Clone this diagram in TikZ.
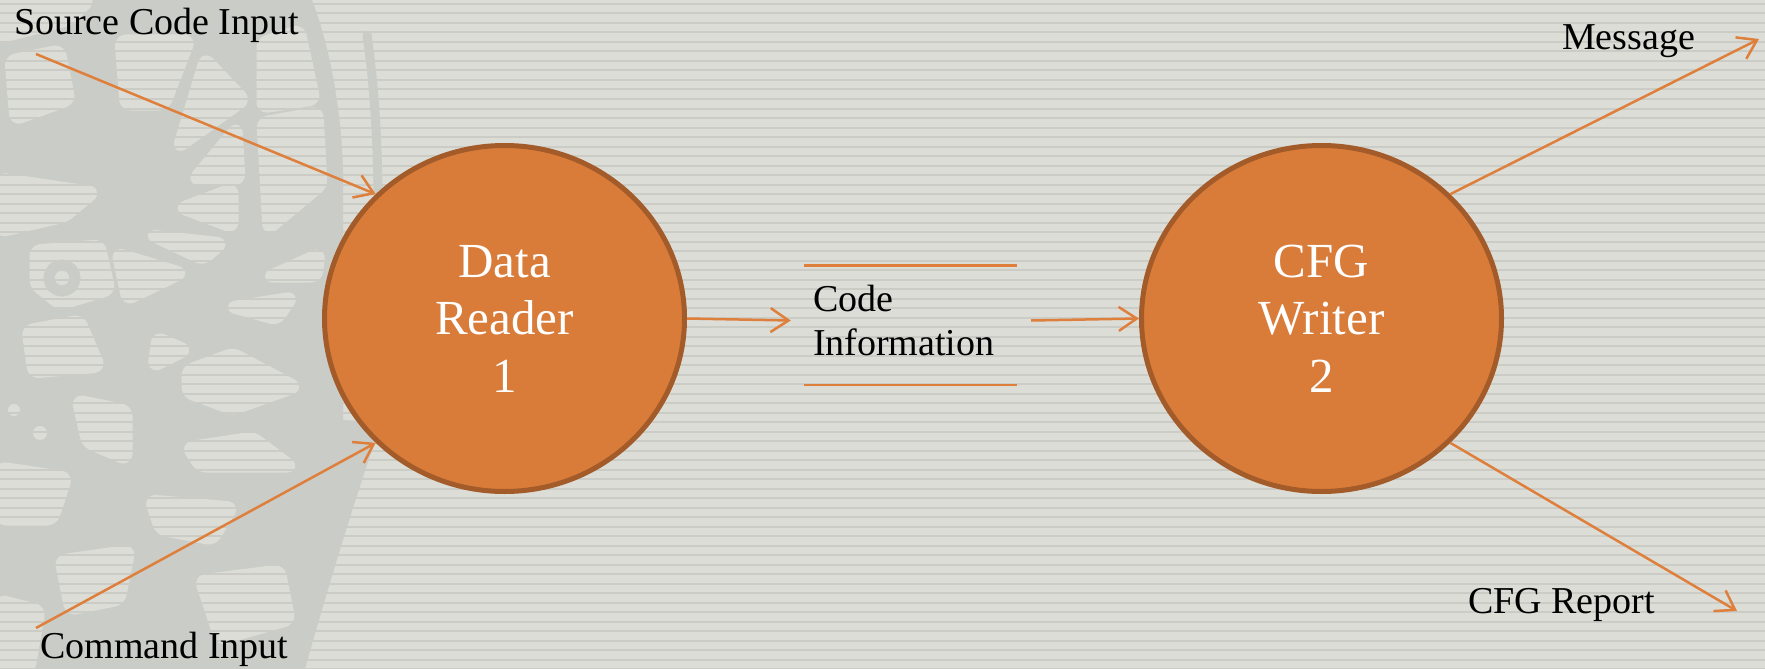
\documentclass[tikz,border=0pt]{standalone}
\usepackage{fontspec}
\setmainfont{Liberation Serif}
\usetikzlibrary{shapes.geometric,arrows.meta}
\definecolor{bg}{HTML}{DCDDD7}
\definecolor{stripe}{HTML}{CBCCC6}
\definecolor{deco}{HTML}{CACCC7}
\definecolor{procfill}{HTML}{D97C3A}
\definecolor{procline}{HTML}{A35B29}
\definecolor{flow}{HTML}{DF7F3C}
\begin{document}
\begin{tikzpicture}[x=1pt,y=-1pt,
  process/.style={ellipse, fill=procfill, draw=procline, line width=5pt,
    minimum width=360pt, minimum height=346pt, text=white, align=center,
    font=\fontsize{49}{57.5}\selectfont, inner sep=0pt},
  flowline/.style={draw=flow, line width=2.5pt, -{Straight Barb[length=18pt,width=24pt]}},
  storeline/.style={draw=flow, line width=2.5pt},
  label/.style={font=\fontsize{38}{44}\selectfont, inner sep=0pt, text=black},
  lightshape/.style={fill=bg, draw=bg, line width=11pt, line join=round, rounded corners=6pt}
]
\useasboundingbox (0,0) rectangle (1765,669);
\fill[bg] (0,0) rectangle (1765,669);
% decorative background pattern (left side)
\begin{scope}
\clip (0,0) rectangle (1765,669);
\fill[deco] (0,0) -- (312,0) .. controls (335,60) and (345,140) .. (343,200)
  -- (343,420) -- (375,422) -- (372,450) .. controls (355,500) and (330,580) .. (305,669)
  -- (0,669) -- cycle;
\draw[deco, line width=9pt, line cap=round] (367,35) .. controls (375,90) and (378,150) .. (378,205);
\fill[lightshape] (120,40) -- (190,40) -- (165,105) -- (125,105) -- cycle;
\fill[lightshape] (178,148) -- (205,58) -- (245,100) -- cycle;
\fill[lightshape] (193,180) -- (237,127) -- (240,180) -- cycle;
\fill[lightshape] (262,42) -- (300,30) -- (315,100) -- (262,108) -- cycle;
\fill[lightshape] (262,122) -- (318,112) -- (322,185) -- (268,230) -- cycle;
\fill[lightshape] (180,208) -- (233,188) -- (233,228) -- cycle;
\fill[lightshape] (150,235) -- (223,243) -- (203,260) -- cycle;
\fill[lightshape] (0,178) -- (95,192) -- (65,217) -- (0,232) -- cycle;
\fill[lightshape] (10,60) -- (60,50) -- (70,100) -- (15,120) -- cycle;
\fill[lightshape] (0,0) -- (90,0) -- (70,20) -- (0,38) -- cycle;
\fill[lightshape] (35,250) -- (100,245) -- (110,290) -- (60,305) -- (35,285) -- cycle;
\draw[deco, line width=11pt] (62,278) circle (13);
\fill[lightshape] (117,253) -- (183,273) -- (127,300) -- cycle;
\fill[lightshape] (267,277) -- (320,253) -- (317,277) -- cycle;
\fill[lightshape] (230,307) -- (293,297) -- (277,320) -- cycle;
\fill[lightshape] (27,330) -- (80,320) -- (100,367) -- (33,373) -- cycle;
\fill[lightshape] (157,337) -- (187,350) -- (153,367) -- cycle;
\fill[lightshape] (187,370) -- (233,353) -- (297,387) -- (233,410) -- (187,393) -- cycle;
\fill[lightshape] (77,400) -- (127,410) -- (127,460) -- (87,443) -- cycle;
\fill[lightshape] (187,447) -- (253,437) -- (293,467) -- (200,467) -- cycle;
\fill[bg] (40,433) circle (7);
\fill[bg] (14,410) circle (6);
\fill[lightshape] (0,467) -- (67,477) -- (53,520) -- (0,520) -- cycle;
\fill[lightshape] (150,500) -- (233,507) -- (213,540) -- (160,530) -- cycle;
\fill[lightshape] (60,560) -- (130,550) -- (120,600) -- (70,610) -- cycle;
\fill[lightshape] (200,580) -- (280,570) -- (290,620) -- (220,640) -- cycle;
\fill[lightshape] (0,600) -- (40,610) -- (30,669) -- (0,669) -- cycle;
\end{scope}
% stripes
\foreach \i in {0,...,70} {
  \draw[stripe, line width=2pt] (0,\i*9.5+4) -- (1765,\i*9.5+4);
}
% processes
\node[process] (DR) at (504.5,318.5) {Data\\Reader\\1};
\node[process] (CW) at (1321.5,318.5) {CFG\\Writer\\2};
% data store
\node[label, align=left, text width=196pt, inner xsep=22pt] (CI) at (911,320.5) {Code\\Information};
\draw[storeline] (804,265.7) -- (1017,265.7);
\draw[storeline] (804,385) -- (1017,385);
% external labels
\node[label, anchor=base west] (SCI) at (14,35) {Source Code Input};
\node[label, anchor=base west] (CMI) at (40,658) {Command Input};
\node[label, anchor=base west] (MSG) at (1562,50) {Message};
\node[label, anchor=base west] (REP) at (1468,613) {CFG Report};
% free ends
\coordinate (srcstart) at (36,54);
\coordinate (cmdstart) at (36,628);
\coordinate (msgend) at (1759,39);
\coordinate (repend) at (1737,611);
% flows
\draw[flowline] (srcstart) -- (DR.136);
\draw[flowline] (cmdstart) -- (DR.224);
\draw[flowline] (DR.east) -- (CI.west);
\draw[flowline] (CI.east) -- (CW.west);
\draw[flowline] (CW.44) -- (msgend);
\draw[flowline] (CW.-44) -- (repend);
\end{tikzpicture}
\end{document}
